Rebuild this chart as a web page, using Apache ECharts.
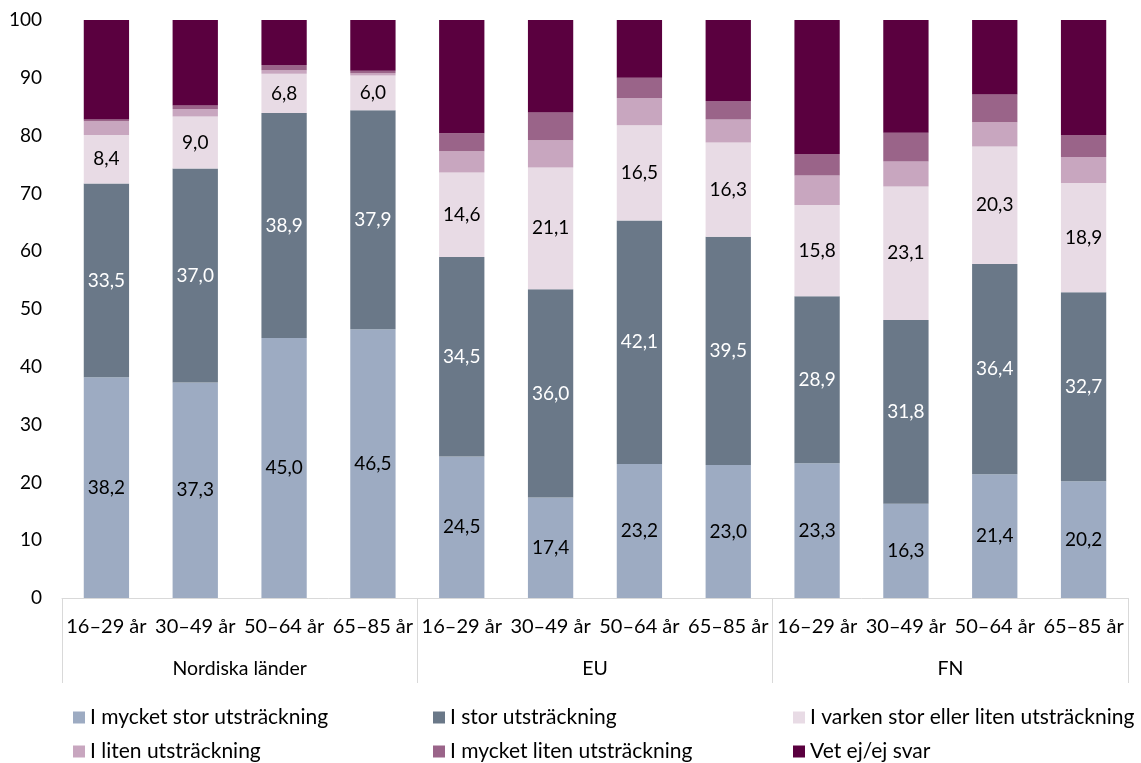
<!DOCTYPE html>
<html>
<head>
<meta charset="utf-8">
<title>Förtroende per åldersgrupp</title>
<script src="https://cdn.jsdelivr.net/npm/echarts@6/dist/echarts.min.js"></script>
<style>
  html, body { margin: 0; padding: 0; background: #fff; }
  #chart { width: 1141px; height: 763px; }
</style>
</head>
<body>
<div id="chart"></div>
<script>
// kategorier
const ages = ['16–29 år', '30–49 år', '50–64 år', '65–85 år',
              '16–29 år', '30–49 år', '50–64 år', '65–85 år',
              '16–29 år', '30–49 år', '50–64 år', '65–85 år'];
const groups = ['Nordiska länder', 'EU', 'FN'];

// andelar i procent
const veryLarge = [38.2, 37.3, 45.0, 46.5, 24.5, 17.4, 23.2, 23.0, 23.3, 16.3, 21.4, 20.2];
const large     = [33.5, 37.0, 38.9, 37.9, 34.5, 36.0, 42.1, 39.5, 28.9, 31.8, 36.4, 32.7];
const neither   = [8.4, 9.0, 6.8, 6.0, 14.6, 21.1, 16.5, 16.3, 15.8, 23.1, 20.3, 18.9];
const small     = [2.4, 1.3, 0.6, 0.4, 3.7, 4.7, 4.7, 4.0, 5.1, 4.3, 4.2, 4.5];
const verySmall = [0.3, 0.6, 0.9, 0.4, 3.1, 4.8, 3.5, 3.2, 3.7, 5.0, 4.8, 3.8];
const dontKnow  = [17.2, 14.8, 7.8, 8.8, 19.6, 16.0, 10.0, 14.0, 23.2, 19.5, 12.9, 19.9];

const yTicks = [0, 10, 20, 30, 40, 50, 60, 70, 80, 90, 100];

const FONT = 'Lato';

const chart = echarts.init(document.getElementById('chart'));

const fmt = p => p.value.toFixed(1).replace('.', ',');

function makeSeries(name, data, color, labelColor) {
  return {
    name: name,
    type: 'bar',
    stack: 'total',
    barCategoryGap: '49%',
    itemStyle: { color: color },
    label: labelColor ? {
      show: true,
      position: 'inside',
      formatter: fmt,
      color: labelColor,
      fontFamily: FONT,
      fontSize: 19
    } : { show: false },
    emphasis: { disabled: true },
    data: data
  };
}

const legendText = { color: '#000', fontFamily: FONT, fontSize: 21, lineHeight: 20 };
const legendBase = {
  orient: 'vertical',
  top: 707,
  icon: 'rect',
  itemWidth: 12,
  itemHeight: 12,
  itemGap: 13,
  padding: 0,
  textStyle: legendText,
  selectedMode: false
};

const option = {
  animation: false,
  grid: { left: 62, right: 13, top: 20, bottom: 165, containLabel: false },
  legend: [
    Object.assign({}, legendBase, { left: 73, data: ['I mycket stor utsträckning', 'I liten utsträckning'] }),
    Object.assign({}, legendBase, { left: 433, data: ['I stor utsträckning', 'I mycket liten utsträckning'] }),
    Object.assign({}, legendBase, { left: 793, data: ['I varken stor eller liten utsträckning', 'Vet ej/ej svar'] })
  ],
  xAxis: [
    {
      type: 'category',
      data: ages,
      axisLine: { lineStyle: { color: '#d9d9d9', width: 1 } },
      axisTick: { show: false },
      axisLabel: { color: '#000', fontFamily: FONT, fontSize: 20, margin: 19, interval: 0 }
    },
    {
      type: 'category',
      data: groups,
      position: 'bottom',
      axisLine: { show: false },
      axisTick: { show: true, length: 85, lineStyle: { color: '#d9d9d9', width: 1 } },
      axisLabel: { color: '#000', fontFamily: FONT, fontSize: 19.5, margin: 61, interval: 0 }
    }
  ],
  yAxis: {
    type: 'value',
    min: yTicks[0],
    max: yTicks[yTicks.length - 1],
    interval: 10,
    axisLine: { show: false },
    axisTick: { show: false },
    splitLine: { show: false },
    axisLabel: { color: '#000', fontFamily: FONT, fontSize: 19, margin: 20 }
  },
  series: [
    makeSeries('I mycket stor utsträckning', veryLarge, '#9dabc2', '#000'),
    makeSeries('I stor utsträckning', large, '#6a7888', '#fff'),
    makeSeries('I varken stor eller liten utsträckning', neither, '#e8dbe5', '#000'),
    makeSeries('I liten utsträckning', small, '#c8a6bf', null),
    makeSeries('I mycket liten utsträckning', verySmall, '#9a6489', null),
    makeSeries('Vet ej/ej svar', dontKnow, '#5a003f', null)
  ]
};

chart.setOption(option);
</script>
</body>
</html>
